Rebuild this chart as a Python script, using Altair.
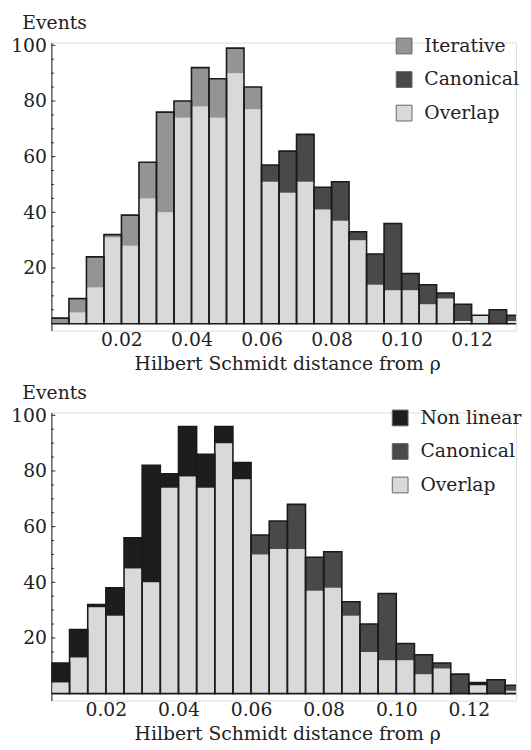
import altair as alt
import pandas as pd

# ---- data ----
bin_starts = [0.000, 0.005, 0.010, 0.015, 0.020, 0.025, 0.030, 0.035, 0.040,
              0.045, 0.050, 0.055, 0.060, 0.065, 0.070, 0.075, 0.080, 0.085,
              0.090, 0.095, 0.100, 0.105, 0.110, 0.115, 0.120, 0.125, 0.130]
bin_width = 0.005

iterative = [2, 9, 24, 32, 39, 58, 76, 80, 92, 88, 99, 85, 51, 47, 51, 41, 37,
             30, 14, 12, 12, 7, 9, 1, 3, 0, 1]
canonical = [0, 4, 13, 31, 28, 45, 40, 74, 78, 74, 90, 77, 57, 62, 68, 49, 51,
             33, 25, 36, 18, 14, 11, 7, 3, 5, 3]
# non linear starts at the second bin (0.005)
non_linear = [11, 23, 32, 38, 56, 82, 79, 96, 86, 96, 83, 50, 52, 52, 37, 38,
              28, 15, 12, 12, 7, 9, 0, 4, 0, 1]

y_tick_labels = [20, 40, 60, 80, 100]
y_minor_ticks = [5, 10, 15, 25, 30, 35, 45, 50, 55, 65, 70, 75, 85, 90, 95]
x_tick_values = [0.02, 0.04, 0.06, 0.08, 0.10, 0.12]

FONT = "DejaVu Serif"
FS = 19
COLORS = {"Iterative": "#949494", "Canonical": "#494949",
          "Non linear": "#1d1d1d", "Overlap": "#d9d9d9"}
W, H = 471, 292


def panel(starts, a_vals, a_name, b_vals, b_name, xdom, legend_x, legend_y):
    seg_rows, out_rows = [], []
    for s, a, b in zip(starts, a_vals, b_vals):
        lo, hi = min(a, b), max(a, b)
        winner = a_name if a >= b else b_name
        if lo > 0:
            seg_rows.append({"x": s, "x2": s + bin_width, "y": 0, "y2": lo, "series": "Overlap"})
        if hi > lo:
            seg_rows.append({"x": s, "x2": s + bin_width, "y": lo, "y2": hi, "series": winner})
        out_rows.append({"x": s, "x2": s + bin_width, "y": 0, "y2": hi})
    seg = pd.DataFrame(seg_rows)
    out = pd.DataFrame(out_rows)
    order = [a_name, b_name, "Overlap"]

    xscale = alt.Scale(domain=xdom, nice=False, zero=False)
    yscale = alt.Scale(domain=[-2.5, 101], nice=False, zero=False)
    xaxis = alt.Axis(values=x_tick_values, format=".2f", ticks=False, domain=False,
                     grid=False, labelFont=FONT, labelFontSize=FS, labelColor="#222",
                     labelPadding=0, title="Hilbert Schmidt distance from ρ",
                     titleFont=FONT, titleFontSize=FS, titleFontWeight="normal",
                     titleColor="#222", titlePadding=5, titleX=239,
                     titleAlign="center", labelFlush=False)
    yaxis = alt.Axis(values=y_tick_labels, ticks=False, domain=True, domainColor="#222",
                     domainWidth=1, grid=False, labelFont=FONT, labelFontSize=FS,
                     labelColor="#222", labelPadding=5, title="Events", titleAngle=0,
                     titleAlign="left", titleBaseline="top", titleX=-30,
                     titleY=-29, titleFont=FONT, titleFontSize=FS,
                     titleFontWeight="normal", titleColor="#222")

    bars = alt.Chart(seg).mark_bar(strokeWidth=0, clip=True).encode(
        x=alt.X("x:Q", scale=xscale, axis=xaxis),
        x2="x2:Q",
        y=alt.Y("y:Q", scale=yscale, axis=yaxis),
        y2="y2:Q",
        color=alt.Color("series:N",
                        scale=alt.Scale(domain=order, range=[COLORS[k] for k in order]),
                        legend=alt.Legend(orient="none", legendX=legend_x, legendY=legend_y,
                                          title=None, symbolType="square",
                                          symbolSize=256, symbolStrokeColor="#666",
                                          symbolStrokeWidth=1, symbolOpacity=1,
                                          labelFont=FONT, labelFontSize=FS,
                                          labelColor="#222", labelOffset=11,
                                          rowPadding=13, padding=0),
                        sort=order),
    )
    outline = alt.Chart(out).mark_bar(fillOpacity=0, stroke="#1a1a1a",
                                      strokeWidth=1.6, clip=True).encode(
        x="x:Q", x2="x2:Q", y="y:Q", y2="y2:Q")
    major = alt.Chart(pd.DataFrame({"v": y_tick_labels})).mark_rule(
        color="#222", strokeWidth=1).encode(
        y="v:Q", x=alt.value(0), x2=alt.value(4))
    minor = alt.Chart(pd.DataFrame({"v": y_minor_ticks})).mark_rule(
        color="#222", strokeWidth=1).encode(
        y="v:Q", x=alt.value(0), x2=alt.value(2.5))
    return alt.layer(bars, outline, major, minor).properties(width=W, height=H)


top = panel(bin_starts, iterative, "Iterative", canonical, "Canonical",
            [0.0, 0.1327], 348, -6)
bottom = panel(bin_starts[1:], non_linear, "Non linear", canonical[1:], "Canonical",
               [0.005, 0.133], 344, -4)

chart = alt.vconcat(top, bottom, spacing=9).resolve_scale(
    color="independent", x="independent").resolve_legend(color="independent").properties(
    padding={"left": 2, "top": 0, "right": 0, "bottom": -4}
).configure_view(stroke=None).configure(background="white")

chart.save("out.html", embed_options={"renderer": "svg", "actions": False})
